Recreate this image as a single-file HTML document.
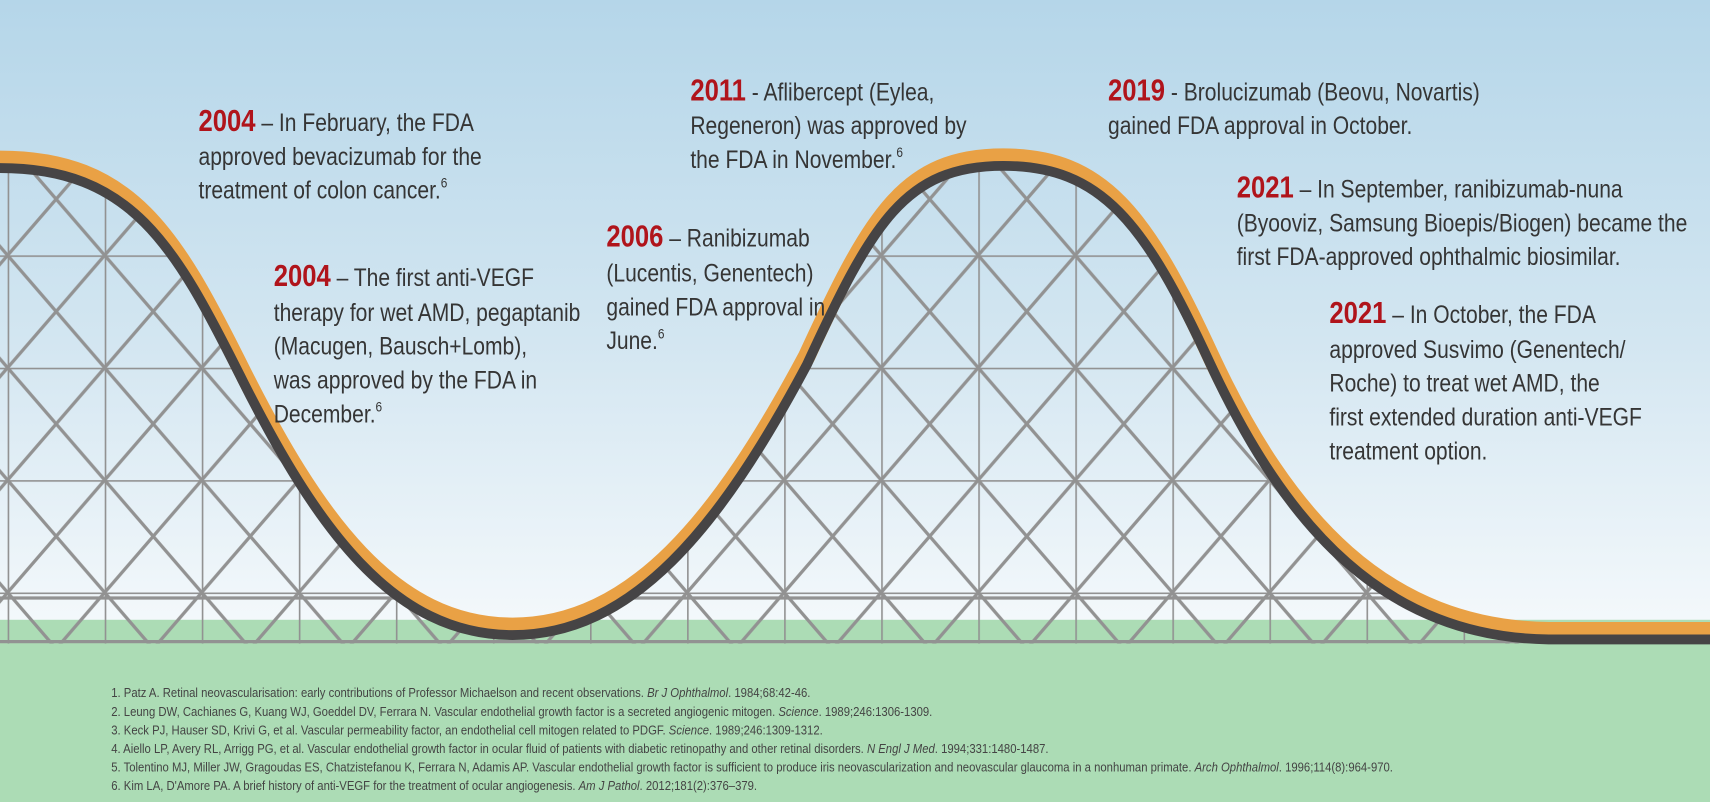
<!DOCTYPE html>
<html><head><meta charset="utf-8"><style>
html,body{margin:0;padding:0;width:1710px;height:802px;overflow:hidden}
svg{display:block}
.t{font-family:"Liberation Sans",sans-serif;font-size:23px;fill:#353535}
.y{font-family:"Liberation Sans",sans-serif;font-weight:bold;font-size:28px;fill:#b0141b}
.r{font-family:"Liberation Sans",sans-serif;font-size:12px;fill:#444}
</style></head><body>
<svg width="1710" height="802" viewBox="0 0 1568 735" preserveAspectRatio="none">
<defs>
<linearGradient id="sky" x1="0" y1="0" x2="0" y2="1">
<stop offset="0" stop-color="#b5d6e9"/><stop offset="0.55" stop-color="#d3e6f1"/><stop offset="1" stop-color="#f3f8fb"/>
</linearGradient>
<pattern id="truss" x="7" y="28" width="89" height="103" patternUnits="userSpaceOnUse">
<g stroke="#929292" stroke-width="3" fill="none">
<line x1="0" y1="0" x2="0" y2="103"/><line x1="0" y1="0" x2="89" y2="0"/>
<line x1="0" y1="0" x2="89" y2="103"/><line x1="89" y1="0" x2="0" y2="103"/>
</g></pattern>
<clipPath id="under"><path d="M0,150 C120,150 160,220 220,340 C290,480 360,578 470,578 C580,578 660,480 740,330 C800,200 830,148 920,148 C1010,148 1050,200 1110,330 C1180,480 1270,580 1420,582 L1568,582 L1568,590 L0,590 Z"/></clipPath>
</defs>
<rect width="1568" height="735" fill="#acdcb5"/>
<rect width="1568" height="568" fill="url(#sky)"/>
<g clip-path="url(#under)">
<rect width="1568" height="590" fill="url(#truss)"/>
<g stroke="#929292" stroke-width="3">
<line x1="0" y1="548" x2="1568" y2="548"/><line x1="0" y1="588" x2="1568" y2="588"/>
</g>
</g>
<path d="M0,150 C120,150 160,220 220,340 C290,480 360,578 470,578 C580,578 660,480 740,330 C800,200 830,148 920,148 C1010,148 1050,200 1110,330 C1180,480 1270,580 1420,582 L1568,582" fill="none" stroke="#e9a145" stroke-width="16" transform="translate(0,-4)"/>
<path d="M0,150 C120,150 160,220 220,340 C290,480 360,578 470,578 C580,578 660,480 740,330 C800,200 830,148 920,148 C1010,148 1050,200 1110,330 C1180,480 1270,580 1420,582 L1568,582" fill="none" stroke="#464445" stroke-width="9" transform="translate(0,4)"/>

<g transform="translate(182,0) scale(0.84,1)">
<text x="0" y="120"><tspan class="y">2004</tspan><tspan class="t"> – In February, the FDA</tspan></text>
<text class="t" x="0" y="151">approved bevacizumab for the</text>
<text class="t" x="0" y="182">treatment of colon cancer.<tspan font-size="13" dy="-10">6</tspan></text>
</g>
<g transform="translate(251,0) scale(0.84,1)">
<text x="0" y="262"><tspan class="y">2004</tspan><tspan class="t"> – The first anti-VEGF</tspan></text>
<text class="t" x="0" y="294">therapy for wet AMD, pegaptanib</text>
<text class="t" x="0" y="325">(Macugen, Bausch+Lomb),</text>
<text class="t" x="0" y="356">was approved by the FDA in</text>
<text class="t" x="0" y="387">December.<tspan font-size="13" dy="-10">6</tspan></text>
</g>
<g transform="translate(556,0) scale(0.84,1)">
<text x="0" y="226"><tspan class="y">2006</tspan><tspan class="t"> – Ranibizumab</tspan></text>
<text class="t" x="0" y="258">(Lucentis, Genentech)</text>
<text class="t" x="0" y="289">gained FDA approval in</text>
<text class="t" x="0" y="320">June.<tspan font-size="13" dy="-10">6</tspan></text>
</g>
<g transform="translate(633,0) scale(0.84,1)">
<text x="0" y="92"><tspan class="y">2011</tspan><tspan class="t"> - Aflibercept (Eylea,</tspan></text>
<text class="t" x="0" y="123">Regeneron) was approved by</text>
<text class="t" x="0" y="154">the FDA in November.<tspan font-size="13" dy="-10">6</tspan></text>
</g>
<g transform="translate(1016,0) scale(0.84,1)">
<text x="0" y="92"><tspan class="y">2019</tspan><tspan class="t"> - Brolucizumab (Beovu, Novartis)</tspan></text>
<text class="t" x="0" y="123">gained FDA approval in October.</text>
</g>
<g transform="translate(1134,0) scale(0.84,1)">
<text x="0" y="181"><tspan class="y">2021</tspan><tspan class="t"> – In September, ranibizumab-nuna</tspan></text>
<text class="t" x="0" y="212">(Byooviz, Samsung Bioepis/Biogen) became the</text>
<text class="t" x="0" y="243">first FDA-approved ophthalmic biosimilar.</text>
</g>
<g transform="translate(1219,0) scale(0.84,1)">
<text x="0" y="296"><tspan class="y">2021</tspan><tspan class="t"> – In October, the FDA</tspan></text>
<text class="t" x="0" y="328">approved Susvimo (Genentech/</text>
<text class="t" x="0" y="359">Roche) to treat wet AMD, the</text>
<text class="t" x="0" y="390">first extended duration anti-VEGF</text>
<text class="t" x="0" y="421">treatment option.</text>
</g>
<g transform="translate(102,0) scale(0.865,1)">
<text class="r" x="0" y="639">1. Patz A. Retinal neovascularisation: early contributions of Professor Michaelson and recent observations. <tspan font-style="italic">Br J Ophthalmol</tspan>. 1984;68:42-46.</text>
<text class="r" x="0" y="656">2. Leung DW, Cachianes G, Kuang WJ, Goeddel DV, Ferrara N. Vascular endothelial growth factor is a secreted angiogenic mitogen. <tspan font-style="italic">Science</tspan>. 1989;246:1306-1309.</text>
<text class="r" x="0" y="673">3. Keck PJ, Hauser SD, Krivi G, et al. Vascular permeability factor, an endothelial cell mitogen related to PDGF. <tspan font-style="italic">Science</tspan>. 1989;246:1309-1312.</text>
<text class="r" x="0" y="690">4. Aiello LP, Avery RL, Arrigg PG, et al. Vascular endothelial growth factor in ocular fluid of patients with diabetic retinopathy and other retinal disorders. <tspan font-style="italic">N Engl J Med</tspan>. 1994;331:1480-1487.</text>
<text class="r" x="0" y="707">5. Tolentino MJ, Miller JW, Gragoudas ES, Chatzistefanou K, Ferrara N, Adamis AP. Vascular endothelial growth factor is sufficient to produce iris neovascularization and neovascular glaucoma in a nonhuman primate. <tspan font-style="italic">Arch Ophthalmol</tspan>. 1996;114(8):964-970.</text>
<text class="r" x="0" y="724">6. Kim LA, D'Amore PA. A brief history of anti-VEGF for the treatment of ocular angiogenesis. <tspan font-style="italic">Am J Pathol</tspan>. 2012;181(2):376–379.</text>
</g>
</svg>
</body></html>
